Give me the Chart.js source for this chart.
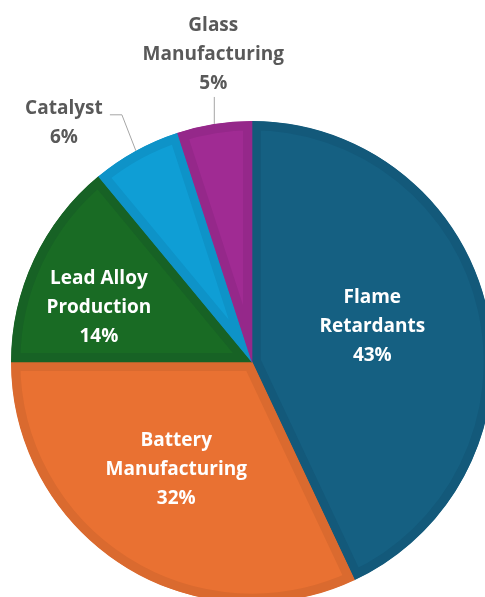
<!DOCTYPE html>
<html>
<head>
<meta charset="utf-8">
<script src="https://cdn.jsdelivr.net/npm/chart.js@4.4.1/dist/chart.umd.min.js"></script>
<style>
  html, body { margin: 0; padding: 0; background: #ffffff; overflow: hidden; }
  #wrap { position: absolute; left: 0; top: 0; width: 520px; height: 620px; }
</style>
</head>
<body>
<div id="wrap"><canvas id="pie"></canvas></div>
<script>
// label lines for each slice, share in percent
var categories = [['Flame', 'Retardants'], ['Battery', 'Manufacturing'], ['Lead Alloy', 'Production'], ['Catalyst'], ['Glass', 'Manufacturing']];
var shares = [43, 32, 14, 6, 5];

var fills = ['#156082', '#E97132', '#196B24', '#0F9ED5', '#A02B93'];
var edges = ['#13597a', '#da6a2f', '#176225', '#0e93c8', '#95288a'];

// where each label goes: inside the slice (fraction of radius + nudge) or outside with a leader line
var placement = [
  { inside: true, r: 0.52, dx: -2, dy: -8 },
  { inside: true, r: 0.54, dx: -6, dy: -2 },
  { inside: true, r: 0.67, dx: -7, dy: 14 },
  { inside: false, leader: [[-14, -36], [-26, -36]], text: [-46, 8] },
  { inside: false, leader: [[0, -27]], text: [-1, -42] }
];

var FONT = 'bold 19px "Open Sans"';
var LINE_H = 29;

var sliceLabels = {
  id: 'sliceLabels',
  afterDatasetsDraw: function(chart) {
    var ctx = chart.ctx;
    var meta = chart.getDatasetMeta(0);
    ctx.save();
    ctx.font = FONT;
    ctx.textAlign = 'center';
    ctx.textBaseline = 'middle';
    meta.data.forEach(function(arc, i) {
      var p = arc.getProps(['x', 'y', 'startAngle', 'endAngle', 'outerRadius'], true);
      var mid = (p.startAngle + p.endAngle) / 2;
      var lines = categories[i].concat([shares[i] + '%']);
      var pl = placement[i];
      var tx, ty;
      if (pl.inside) {
        tx = p.x + Math.cos(mid) * p.outerRadius * pl.r + pl.dx;
        ty = p.y + Math.sin(mid) * p.outerRadius * pl.r + pl.dy;
        ctx.fillStyle = '#ffffff';
      } else {
        var ex = p.x + Math.cos(mid) * p.outerRadius;
        var ey = p.y + Math.sin(mid) * p.outerRadius;
        ctx.strokeStyle = '#a6a6a6';
        ctx.lineWidth = 1;
        ctx.beginPath();
        ctx.moveTo(ex, ey);
        var lx = ex, ly = ey;
        pl.leader.forEach(function(pt) {
          lx = ex + pt[0];
          ly = ey + pt[1];
          ctx.lineTo(lx, ly);
        });
        ctx.stroke();
        tx = lx + pl.text[0];
        ty = ly + pl.text[1];
        ctx.fillStyle = '#595959';
      }
      var top = ty - (lines.length - 1) * LINE_H / 2;
      lines.forEach(function(txt, k) {
        ctx.fillText(txt, tx, top + k * LINE_H);
      });
    });
    ctx.restore();
  }
};

var ctx = document.getElementById('pie');

var pieChart = new Chart(ctx, {
  type: 'pie',
  data: {
    labels: categories.map(function(c) { return c.join(' '); }),
    datasets: [{
      data: shares,
      backgroundColor: fills,
      borderColor: edges,
      hoverBackgroundColor: fills,
      hoverBorderColor: edges,
      borderWidth: 9,
      hoverBorderWidth: 9,
      borderAlign: 'inner',
      hoverOffset: 0
    }]
  },
  options: {
    responsive: true,
    maintainAspectRatio: false,
    animation: false,
    layout: { padding: { left: 11, right: 27, top: 121, bottom: 17 } },
    plugins: {
      legend: { display: false },
      tooltip: { enabled: false }
    },
    events: []
  },
  plugins: [sliceLabels]
});
</script>
</body>
</html>
